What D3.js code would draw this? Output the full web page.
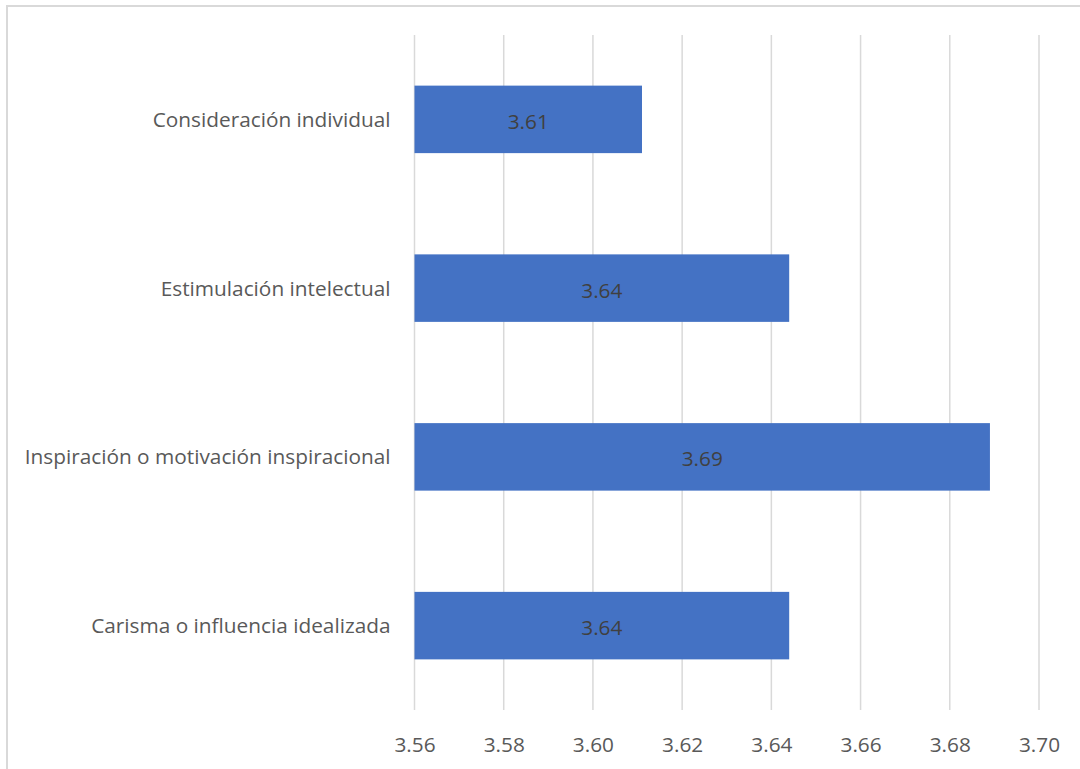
<!DOCTYPE html>
<html>
<head>
<meta charset="utf-8">
<script src="https://cdn.jsdelivr.net/npm/d3@7"></script>
<style>
  html, body { margin: 0; padding: 0; background: #ffffff; }
  svg { display: block; }
  text { font-family: "Open Sans", "Noto Sans", sans-serif; }
</style>
</head>
<body>
<svg id="chart" width="1080" height="769"></svg>
<script>
// Dimension names, top to bottom
const categories = [
  "Consideración individual",
  "Estimulación intelectual",
  "Inspiración o motivación inspiracional",
  "Carisma o influencia idealizada"
];
// Mean score per dimension
const values = [3.611, 3.644, 3.689, 3.644];
// Value axis ticks
const tickValues = [3.56, 3.58, 3.60, 3.62, 3.64, 3.66, 3.68, 3.70];

const svg = d3.select("#chart");
const fontSize = 20.8;

// Chart frame
svg.append("rect")
  .attr("x", 7).attr("y", 6)
  .attr("width", 1100).attr("height", 800)
  .attr("fill", "#ffffff")
  .attr("stroke", "#d9d9d9")
  .attr("stroke-width", 2);

const plotTop = 35, plotBottom = 710;

const x = d3.scaleLinear()
  .domain([tickValues[0], tickValues[tickValues.length - 1]])
  .range([414.5, 1039]);

const y = d3.scaleBand()
  .domain(categories)
  .range([plotTop, plotBottom])
  .paddingInner(0.6)
  .paddingOuter(0.3);

// Vertical gridlines
svg.append("g")
  .selectAll("line")
  .data(tickValues)
  .join("line")
  .attr("x1", d => x(d)).attr("x2", d => x(d))
  .attr("y1", plotTop).attr("y2", plotBottom)
  .attr("stroke", "#d9d9d9")
  .attr("stroke-width", 1.5);

// Bars
svg.append("g")
  .selectAll("rect")
  .data(values)
  .join("rect")
  .attr("x", x(tickValues[0]))
  .attr("y", (d, i) => y(categories[i]))
  .attr("width", d => x(d) - x(tickValues[0]))
  .attr("height", y.bandwidth())
  .attr("fill", "#4472c4");

// Value labels inside bars
svg.append("g")
  .selectAll("text")
  .data(values)
  .join("text")
  .attr("x", d => (x(tickValues[0]) + x(d)) / 2)
  .attr("y", (d, i) => y(categories[i]) + y.bandwidth() / 2 + 2)
  .attr("dy", "0.36em")
  .attr("text-anchor", "middle")
  .attr("font-size", fontSize)
  .attr("fill", "#404040")
  .text(d => d3.format(".2f")(d));

// Category axis labels
const yAxis = d3.axisLeft(y).tickSize(0).tickPadding(24);
const gy = svg.append("g")
  .attr("transform", `translate(${x(tickValues[0])},0)`)
  .call(yAxis);
gy.select(".domain").remove();
gy.selectAll("text")
  .attr("font-size", fontSize)
  .attr("font-family", null)
  .attr("fill", "#595959")
  .attr("dy", "0.36em");

// Value axis labels
const xAxis = d3.axisBottom(x)
  .tickValues(tickValues)
  .tickFormat(d3.format(".2f"))
  .tickSize(0)
  .tickPadding(0);
const gx = svg.append("g")
  .attr("transform", `translate(0,${plotBottom})`)
  .call(xAxis);
gx.select(".domain").remove();
gx.selectAll("text")
  .attr("font-size", fontSize)
  .attr("font-family", null)
  .attr("fill", "#595959")
  .attr("y", 41.7)
  .attr("dy", 0);
</script>
</body>
</html>
